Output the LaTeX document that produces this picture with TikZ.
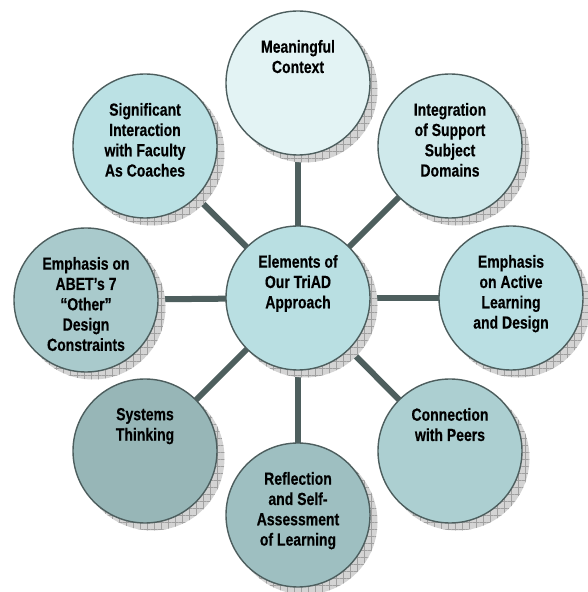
\documentclass[tikz,border=0pt]{standalone}
\usepackage{fontspec}
\setmainfont{Liberation Sans}[FakeStretch=0.80, BoldFeatures={FakeBold=0.4}]
\usetikzlibrary{patterns.meta}

\definecolor{rimgray}{HTML}{4D5E5E}
\definecolor{linkgray}{HTML}{4E5F5E}
\definecolor{shadowgray}{HTML}{D4D4D4}
\definecolor{hatchgray}{HTML}{A0A0A0}
\definecolor{fillcenter}{HTML}{B9DFE2}
\definecolor{fillN}{HTML}{E3F3F4}
\definecolor{fillNE}{HTML}{CFE9EB}
\definecolor{fillE}{HTML}{BADFE3}
\definecolor{fillSE}{HTML}{ACCFD1}
\definecolor{fillS}{HTML}{9EBFC1}
\definecolor{fillSW}{HTML}{97B6B7}
\definecolor{fillW}{HTML}{A9CACC}
\definecolor{fillNW}{HTML}{BBE1E4}

\pgfdeclarelayer{links}
\pgfdeclarelayer{shades}
\pgfsetlayers{links,shades,main}

\begin{document}
\begin{tikzpicture}[x=1pt,y=1pt,
  disc/.style={circle, draw=rimgray, line width=1.4pt, minimum size=144pt, inner sep=0pt},
  shade/.style={circle, minimum size=145pt, inner sep=0pt, fill=shadowgray,
    postaction={pattern={Hatch[distance=7pt,line width=0.6pt]}, pattern color=hatchgray}},
  disctext/.style={anchor=north, inner sep=0pt, align=center, text=black,
    font=\bfseries\fontsize{17.5}{20.3}\selectfont},
  link/.style={draw=linkgray, line width=6pt}]

\useasboundingbox (0,0) rectangle (587,592);

% circles
\node[disc, fill=fillcenter] (c0) at (298,294) {};
\node[disc, fill=fillN]  (c1) at (298,509) {};
\node[disc, fill=fillNE] (c2) at (450,446) {};
\node[disc, fill=fillE]  (c3) at (511,294) {};
\node[disc, fill=fillSE] (c4) at (450,141) {};
\node[disc, fill=fillS]  (c5) at (298,77) {};
\node[disc, fill=fillSW] (c6) at (145,141) {};
\node[disc, fill=fillW]  (c7) at (86,292) {};
\node[disc, fill=fillNW] (c8) at (145,446) {};

% texts, set from the top of each circle
\node[disctext] (t0) at ([yshift=-29.5pt]c0.north) {Elements of\\Our TriAD\\Approach};
\node[disctext] (t1) at ([yshift=-29.5pt]c1.north) {Meaningful\\Context};
\node[disctext] (t2) at ([yshift=-29.5pt]c2.north) {Integration\\of Support\\Subject\\Domains};
\node[disctext] (t3) at ([yshift=-29.5pt]c3.north) {Emphasis\\on Active\\Learning\\and Design};
\node[disctext] (t4) at ([yshift=-29.5pt]c4.north) {Connection\\with Peers};
\node[disctext] (t5) at ([yshift=-29.5pt]c5.north) {Reflection\\and Self-\\Assessment\\of Learning};
\node[disctext] (t6) at ([yshift=-29.5pt]c6.north) {Systems\\Thinking};
\node[disctext] (t7) at ([yshift=-29.5pt]c7.north) {Emphasis on\\ABET’s 7\\“Other”\\Design\\Constraints};
\node[disctext] (t8) at ([yshift=-29.5pt]c8.north) {Significant\\Interaction\\with Faculty\\As Coaches};

% drop shadows
\begin{pgfonlayer}{shades}
  \foreach \i in {0,...,8}
    \node[shade] (s\i) at ([shift={(7pt,-7pt)}]c\i.center) {};
\end{pgfonlayer}

% spokes
\begin{pgfonlayer}{links}
  \foreach \i in {1,...,8}
    \draw[link] (c0.center) -- (c\i.center);
\end{pgfonlayer}
\end{tikzpicture}
\end{document}
